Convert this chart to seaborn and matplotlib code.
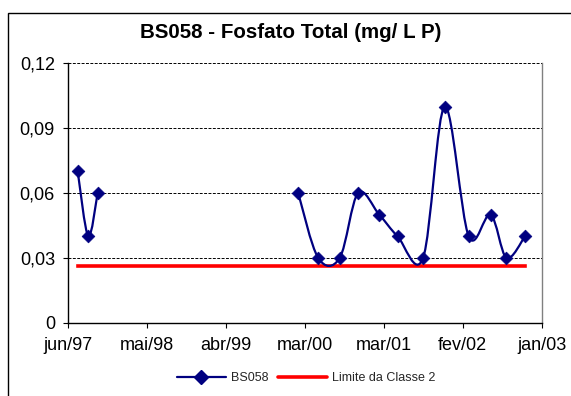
import numpy as np
import pandas as pd
import matplotlib
matplotlib.use("Agg")
import matplotlib.pyplot as plt
import matplotlib.dates as mdates
from matplotlib.path import Path
from matplotlib.patches import PathPatch, Rectangle
from matplotlib.lines import Line2D
import seaborn as sns

# ---- data ----
dates = ["1997-08-06", "1997-09-20", "1997-10-30",
         "2000-03-02", "2000-05-26", "2000-08-26", "2000-11-12",
         "2001-02-10", "2001-04-29", "2001-08-16", "2001-11-16",
         "2002-02-26", "2002-05-30", "2002-08-06", "2002-10-24"]
bs058 = [0.07, 0.04, 0.06,
         0.06, 0.03, 0.03, 0.06,
         0.05, 0.04, 0.03, 0.10,
         0.04, 0.05, 0.03, 0.04]
segment = [0, 0, 0, 1, 1, 1, 1, 1, 1, 1, 1, 1, 1, 1, 1]
limite = [0.026] * len(dates)
axis_start = "1997-06-27"
tick_step_days = 336
tick_labels = ["jun/97", "mai/98", "abr/99", "mar/00", "mar/01", "fev/02", "jan/03"]
y_ticks = [0, 0.03, 0.06, 0.09, 0.12]
y_tick_labels = ["0", "0,03", "0,06", "0,09", "0,12"]
title = "BS058 - Fosfato Total (mg/ L P)"
series_names = ["BS058", "Limite da Classe 2"]

df = pd.DataFrame({"date": pd.to_datetime(dates), "BS058": bs058,
                   "limite": limite, "segment": segment})

sns.set_theme(style="white")
plt.rcParams["font.family"] = ["Liberation Sans", "DejaVu Sans"]

W, H = 571, 396
fig = plt.figure(figsize=(W / 100, H / 100), dpi=100)
ax = fig.add_axes([68.3 / W, 1 - 322.7 / H, (541.7 - 68.3) / W, (322.7 - 63.3) / H])

navy = "#000080"
red = "#FF0000"

# limit line
sns.lineplot(data=df, x="date", y="limite", ax=ax, color=red, lw=2.6,
             solid_capstyle="projecting", legend=False, zorder=3)

# smoothed series (Excel-style Catmull-Rom bezier) per segment
for seg_id, g in df.groupby("segment"):
    xs = mdates.date2num(g["date"].values)
    ys = g["BS058"].values
    pts = np.column_stack([xs, ys])
    n = len(pts)
    verts = [pts[0]]
    codes = [Path.MOVETO]
    for i in range(n - 1):
        p_prev = pts[i - 1] if i > 0 else pts[i]
        p_next2 = pts[i + 2] if i + 2 < n else pts[i + 1]
        c1 = pts[i] + (pts[i + 1] - p_prev) / 6.0
        c2 = pts[i + 1] - (p_next2 - pts[i]) / 6.0
        verts += [c1, c2, pts[i + 1]]
        codes += [Path.CURVE4] * 3
    ax.add_patch(PathPatch(Path(verts, codes), facecolor="none",
                           edgecolor=navy, lw=1.6, zorder=4))

sns.scatterplot(data=df, x="date", y="BS058", ax=ax, marker="D", s=42,
                color=navy, edgecolor=navy, linewidth=0.5, zorder=5, legend=False)

# axes
x0 = mdates.date2num(pd.Timestamp(axis_start))
ticks = [x0 + i * tick_step_days for i in range(len(tick_labels))]
ax.set_xlim(ticks[0], ticks[-1])
ax.set_xticks(ticks)
ax.set_xticklabels(tick_labels)
ax.set_ylim(0, 0.12)
ax.set_yticks(y_ticks)
ax.set_yticklabels(y_tick_labels)
ax.set_xlabel("")
ax.set_ylabel("")

ax.yaxis.grid(True, color="black", linestyle=(0, (3, 1.5)), lw=0.7)
ax.xaxis.grid(False)
ax.set_axisbelow(True)
for s in ["left", "bottom"]:
    ax.spines[s].set_color("black")
    ax.spines[s].set_linewidth(1.0)
ax.spines["top"].set_visible(False)
ax.spines["right"].set_color("#808080")
ax.spines["right"].set_linewidth(1.0)
ax.tick_params(axis="both", which="major", direction="out", length=3.6, width=0.8,
               color="black", labelsize=13, labelcolor="black")
ax.tick_params(axis="y", pad=6)
ax.tick_params(axis="x", pad=6.5)
ax.tick_params(left=True, bottom=True)

fig.text(291 / W, 1 - 33 / H, title, ha="center", va="center",
         fontsize=14.8, fontweight="bold", color="black")

handles = [Line2D([0], [0], color=navy, lw=1.6, marker="D", markersize=7),
           Line2D([0], [0], color=red, lw=2.6)]
fig.legend(handles, series_names, loc="center", bbox_to_anchor=(306 / W, 1 - 378 / H),
           ncol=2, frameon=False, fontsize=9, handlelength=3.9, handletextpad=0.4,
           columnspacing=0.8)

# outer chart border (extends beyond image on right/bottom)
fig.patches.append(Rectangle((8 / W, -0.1), 1.2, 1 - 13 / H + 0.1, transform=fig.transFigure,
                             fill=False, edgecolor="black", lw=1.0))

fig.savefig("out.png", dpi=100, facecolor="white")
